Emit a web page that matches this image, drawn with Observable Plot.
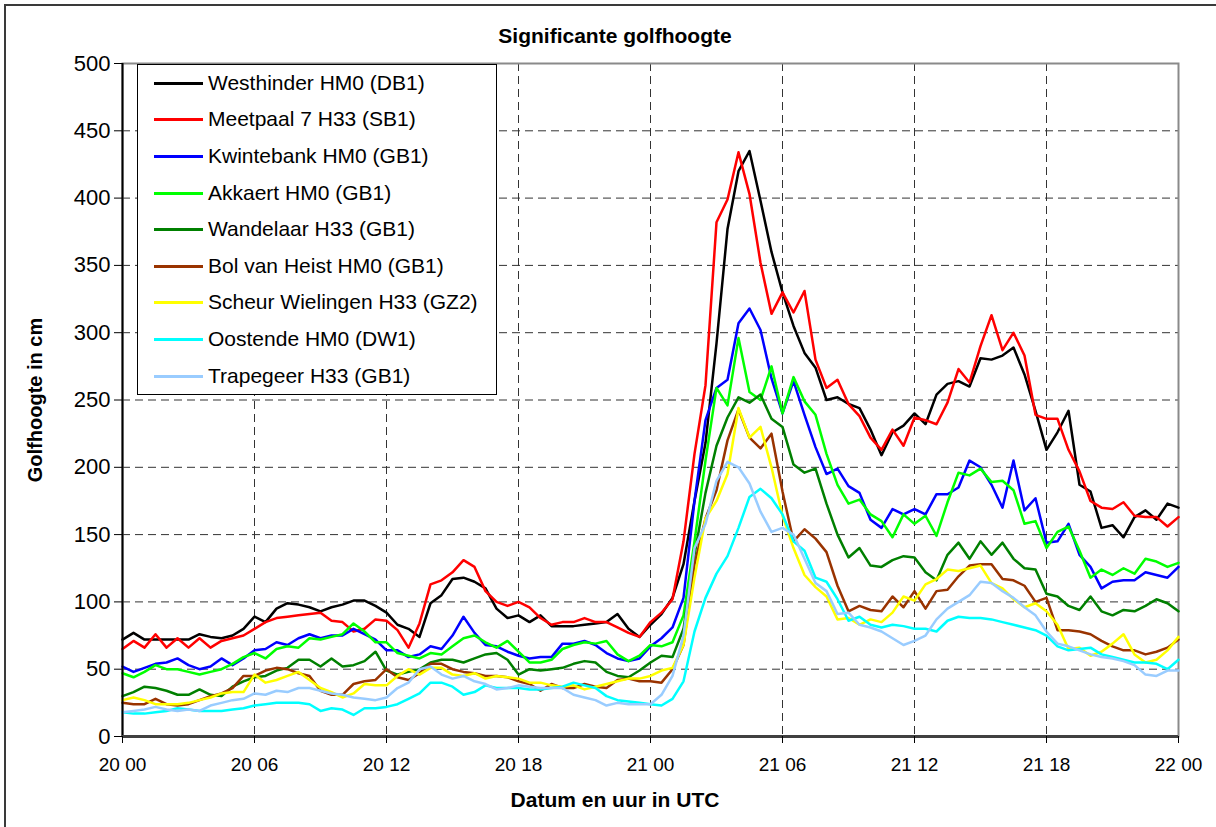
<!DOCTYPE html>
<html>
<head>
<meta charset="utf-8">
<script src="https://cdn.jsdelivr.net/npm/d3@7"></script>
<script src="https://cdn.jsdelivr.net/npm/@observablehq/plot@0.6"></script>
<style>
html, body { margin: 0; padding: 0; background: #fff; overflow: hidden; }
#wrap { position: relative; width: 1216px; height: 827px; overflow: hidden; font-family: "Liberation Sans", Arial, sans-serif; color: #000; }
#outer { position: absolute; left: 4px; top: 4px; width: 1400px; height: 1000px; border: 2px solid #3a3a3a; box-sizing: border-box; }
#chart { position: absolute; left: 0; top: 0; }
.t { position: absolute; font-weight: bold; white-space: nowrap; transform: translate(-50%, -50%); }
#legend { position: absolute; left: 137px; top: 64px; width: 360px; height: 331px; background: #fff; border: 1px solid #000; box-sizing: border-box; }
.row { position: absolute; left: 0; height: 30px; width: 100%; }
.sw { position: absolute; left: 16px; top: 14px; width: 49px; height: 3px; }
.lab { position: absolute; left: 70px; top: 0; line-height: 30px; font-size: 21px; white-space: nowrap; }
</style>
</head>
<body>
<div id="wrap">
  <div id="outer"></div>
  <div id="chart"></div>
  <div class="t" id="title" style="left:615px; top:36px; font-size:21px;"></div>
  <div class="t" id="xtitle" style="left:615px; top:800px; font-size:21px;"></div>
  <div class="t" id="ytitle" style="left:35px; top:400px; font-size:20px; transform: translate(-50%, -50%) rotate(-90deg);"></div>
  <div id="legend"></div>
</div>
<script>
const chartTitle = "Significante golfhoogte";
const xTitle = "Datum en uur in UTC";
const yTitle = "Golfhoogte in cm";

const stations = ["Westhinder HM0 (DB1)", "Meetpaal 7 H33 (SB1)", "Kwintebank HM0 (GB1)", "Akkaert HM0 (GB1)", "Wandelaar H33 (GB1)", "Bol van Heist HM0 (GB1)", "Scheur Wielingen H33 (GZ2)", "Oostende HM0 (DW1)", "Trapegeer H33 (GB1)"];
const colors = ["#000000", "#ff0000", "#0000ff", "#00ff00", "#008000", "#993300", "#ffff00", "#00ffff", "#99ccff"];

const xTicks = [0, 6, 12, 18, 24, 30, 36, 42, 48];
const xLabels = ["20 00", "20 06", "20 12", "20 18", "21 00", "21 06", "21 12", "21 18", "22 00"];
const yTicks = [0, 50, 100, 150, 200, 250, 300, 350, 400, 450, 500];

// hours since 20 00 UTC, one reading every half hour
const hours = d3.range(0, 48.01, 0.5);

const westhinder = [
72,77,72,72,72,72,72,76,74,73,75,80,
89,85,95,99,98,96,93,96,98,101,101,97,
92,83,80,74,99,105,117,118,115,110,95,88,
90,85,90,82,82,82,83,84,85,91,80,74,
83,91,103,128,175,218,292,377,420,435,398,360,
330,305,285,274,250,252,247,244,228,209,226,231,
240,232,254,262,264,260,281,280,283,289,269,242,
213,226,242,187,182,155,157,148,163,168,161,173,
170];
const meetpaal = [
65,71,66,76,66,73,66,73,66,71,73,75,
80,85,88,89,90,91,92,86,85,78,80,87,
86,79,66,84,113,116,122,131,126,108,100,97,
100,96,88,83,85,85,88,85,85,81,77,74,
85,92,102,145,210,261,382,399,434,403,352,314,
330,315,331,280,259,265,247,238,222,213,228,216,
237,235,232,248,273,263,290,313,287,300,283,239,
236,236,213,197,175,170,169,174,164,163,163,156,
163];
const kwintebank = [
52,48,51,54,55,58,53,50,52,58,53,58,
64,65,70,68,73,76,73,75,75,80,76,72,
64,64,59,61,67,65,75,89,77,68,67,63,
60,58,59,59,69,69,71,68,62,58,56,58,
67,73,81,103,175,235,259,265,307,318,302,266,
240,264,239,215,195,199,186,181,161,155,169,165,
169,165,180,180,185,205,200,187,170,205,168,177,
144,145,158,135,126,110,115,116,116,122,120,118,
126];
const akkaert = [
47,44,48,53,50,50,48,46,48,50,54,59,
62,58,65,67,66,73,72,74,76,84,78,70,
70,62,60,58,62,61,67,73,75,70,66,71,
63,55,55,57,65,68,70,69,71,61,56,60,
68,67,70,90,145,205,259,246,296,256,250,275,
240,267,249,239,210,187,173,176,165,160,148,165,
158,164,149,174,196,194,199,189,190,183,158,160,
140,152,156,138,118,124,120,125,121,132,130,126,
129];
const wandelaar = [
30,33,37,36,34,31,31,35,31,30,37,41,
44,45,49,51,57,57,52,58,52,53,56,63,
49,46,48,50,55,57,57,55,58,61,62,57,
46,50,49,50,51,54,56,55,48,45,44,49,
55,60,59,80,135,181,216,237,252,248,254,236,
230,202,196,199,173,150,133,140,127,126,131,134,
133,122,116,135,144,132,145,135,144,132,125,124,
106,104,97,94,104,93,90,94,93,97,102,99,
93];
const bolVanHeist = [
25,24,24,28,24,23,24,27,30,32,36,45,
45,49,51,50,47,45,34,31,31,39,41,42,
50,44,42,47,54,54,50,48,47,45,45,44,
41,39,34,39,36,36,39,37,36,42,43,41,
41,40,50,68,128,162,183,220,243,222,214,225,
182,145,154,147,137,112,93,97,94,93,104,96,
108,95,108,109,119,127,128,128,117,116,112,100,
103,79,79,78,76,71,67,64,64,61,63,66,
72];
const scheurWielingen = [
27,29,27,24,24,24,25,27,29,32,33,33,
46,40,42,45,48,42,36,33,29,32,39,38,
38,45,50,46,51,51,46,45,47,43,45,44,
43,40,40,38,37,38,35,37,39,41,43,43,
45,49,51,68,118,162,175,195,244,222,230,200,
164,140,120,111,104,87,88,83,87,85,92,104,
101,113,117,124,123,125,127,114,110,102,96,99,
93,83,65,66,60,63,69,76,61,55,57,64,
74];
const oostende = [
18,17,17,18,19,21,20,19,19,19,20,21,
23,24,25,25,25,24,19,21,20,16,21,21,
22,24,28,32,40,40,37,31,33,38,36,36,
36,35,35,36,37,40,38,36,30,27,26,25,
24,23,28,41,78,103,121,134,155,178,184,177,
165,145,138,118,115,102,86,89,83,81,83,82,
80,80,78,86,89,88,88,87,85,83,81,79,
75,67,64,65,66,61,59,57,55,55,54,50,
57];
const trapegeer = [
18,19,20,22,20,19,20,19,23,25,27,28,
32,31,34,33,36,36,34,32,31,29,28,27,
29,36,40,50,52,46,43,45,41,39,35,36,
38,37,36,36,36,31,29,27,23,25,24,24,
24,31,45,75,140,158,190,204,200,188,167,152,
155,150,132,114,108,91,92,83,81,78,73,68,
71,75,87,95,100,105,115,114,108,103,96,90,
78,69,67,64,61,59,58,56,53,46,45,49,
49];

const seriesValues = [westhinder, meetpaal, kwintebank, akkaert, wandelaar, bolVanHeist, scheurWielingen, oostende, trapegeer];

const lineMarks = seriesValues.map((vals, k) =>
  Plot.line(hours.map((h, i) => ({h, v: vals[i]})), {x: "h", y: "v", stroke: colors[k], strokeWidth: 2.5, strokeLinejoin: "round"})
);

const chart = Plot.plot({
  width: 1216,
  height: 827,
  marginLeft: 122,
  marginRight: 38,
  marginTop: 63,
  marginBottom: 91,
  style: {fontFamily: "'Liberation Sans', Arial, sans-serif", background: "transparent", color: "#000"},
  x: {domain: [0, 48], label: null},
  y: {domain: [0, 500], label: null},
  marks: [
    Plot.ruleY(yTicks.filter(d => d > 0 && d < 500), {stroke: "#333", strokeWidth: 1, strokeDasharray: "8,5"}),
    Plot.ruleX(xTicks.filter(d => d > 0 && d < 48), {stroke: "#333", strokeWidth: 1, strokeDasharray: "8,5"}),
    Plot.frame({stroke: "#8a8a8a", strokeWidth: 2}),
    ...lineMarks,
    Plot.ruleX([0], {stroke: "#000", strokeWidth: 2}),
    Plot.ruleY([0], {stroke: "#404040", strokeWidth: 3}),
    Plot.axisY({ticks: yTicks, tickSize: 8, tickPadding: 4, fontSize: 22, label: null, stroke: "#000"}),
    Plot.axisX({ticks: xTicks, tickFormat: d => xLabels[xTicks.indexOf(d)], tickSize: 7, tickPadding: 14, fontSize: 19, label: null, stroke: "#000"})
  ]
});
document.getElementById("chart").appendChild(chart);

document.getElementById("title").textContent = chartTitle;
document.getElementById("xtitle").textContent = xTitle;
document.getElementById("ytitle").textContent = yTitle;

const legend = document.getElementById("legend");
stations.forEach((name, i) => {
  const row = document.createElement("div");
  row.className = "row";
  row.style.top = (18.7 + i * 36.6 - 15 - 1) + "px";
  const sw = document.createElement("div");
  sw.className = "sw";
  sw.style.background = colors[i];
  const lab = document.createElement("div");
  lab.className = "lab";
  lab.textContent = name;
  row.appendChild(sw);
  row.appendChild(lab);
  legend.appendChild(row);
});
</script>
</body>
</html>
